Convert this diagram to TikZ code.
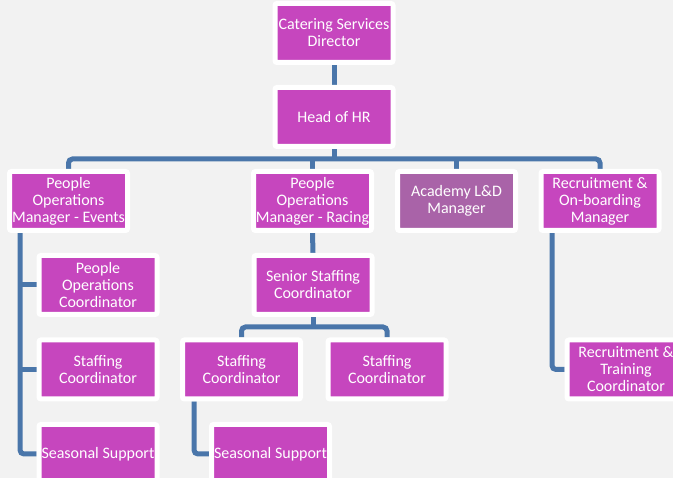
\documentclass[tikz,border=0pt]{standalone}
\usepackage{fontspec}
\setmainfont{Carlito}
\definecolor{bgc}{HTML}{F2F2F2}
\definecolor{mag}{HTML}{C646BE}
\definecolor{muted}{HTML}{A963A8}
\definecolor{conc}{HTML}{4A76AA}
\pgfdeclarelayer{bg}
\pgfdeclarelayer{edges}
\pgfsetlayers{bg,edges,main}
\tikzset{
  box/.style={draw=white, line width=5pt, fill=mag, rounded corners=2pt,
    minimum width=118pt, minimum height=59pt, inner sep=0pt, align=center,
    text=white, font=\fontsize{16pt}{17pt}\selectfont},
  mbox/.style={box, fill=muted},
  conn/.style={draw=conc, line width=5pt, rounded corners=4pt}
}
\begin{document}
\begin{tikzpicture}[x=1pt,y=-1pt]
\useasboundingbox (0,0) rectangle (673,478);
\clip (0,0) rectangle (673,478);
\begin{pgfonlayer}{bg}
\fill[bgc] (0,0) rectangle (673,478);
\end{pgfonlayer}
\node[box] (dir) at (334,33) {Catering Services\\Director};
\node[box] (hr) at (334,117) {Head of HR};
\node[box] (ev) at (68.5,201) {People\\Operations\\Manager - Events};
\node[box] (rc) at (312.5,201) {People\\Operations\\Manager - Racing};
\node[mbox] (ac) at (456.5,201) {Academy L\&D\\Manager};
\node[box] (rob) at (600,201) {Recruitment \&\\On-boarding\\Manager};
\node[box] (poc) at (98,285) {People\\Operations\\Coordinator};
\node[box] (sc1) at (98,369.5) {Staffing\\Coordinator};
\node[box] (ss1) at (98,454) {Seasonal Support};
\node[box] (ssc) at (313,285) {Senior Staffing\\Coordinator};
\node[box] (sc2) at (241.5,369.5) {Staffing\\Coordinator};
\node[box] (sc3) at (387,369.5) {Staffing\\Coordinator};
\node[box] (ss2) at (270.5,454) {Seasonal Support};
\node[box] (rtc) at (626,369.5) {Recruitment \&\\Training\\Coordinator};
\coordinate (bus) at (0,159);
\coordinate (sb) at (0,327);
\coordinate (l1) at (20,0);
\coordinate (l2) at (194,0);
\coordinate (l3) at (552,0);
\begin{pgfonlayer}{edges}
\draw[conn] (dir.south) -- (hr.north);
\draw[conn] (hr.south) -- (hr.south |- bus);
\draw[conn] (ev.north) |- (hr.south |- bus) -| (rob.north);
\draw[conn] (rc.north) -- (rc.north |- bus);
\draw[conn] (ac.north) -- (ac.north |- bus);
\draw[conn] (ev.south -| l1) |- (ss1.west);
\draw[conn] (l1 |- poc) -- (poc.west);
\draw[conn] (l1 |- sc1) -- (sc1.west);
\draw[conn] (rc.south) -- (ssc.north);
\draw[conn] (ssc.south) -- (ssc.south |- sb);
\draw[conn] (sc2.north) |- (ssc.south |- sb) -| (sc3.north);
\draw[conn] (sc2.south -| l2) |- (ss2.west);
\draw[conn] (rob.south -| l3) |- (rtc.west);
\end{pgfonlayer}
\end{tikzpicture}
\end{document}
